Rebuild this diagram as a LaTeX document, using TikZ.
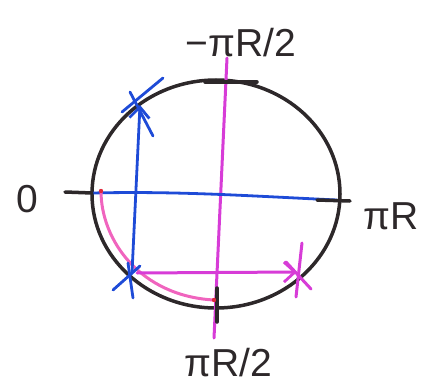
\documentclass[tikz,border=0pt]{standalone}
\usepackage{fontspec}
\setmainfont{Liberation Sans}
\usetikzlibrary{arrows.meta}
\definecolor{inkblack}{RGB}{45,40,42}
\definecolor{inkblue}{RGB}{30,75,215}
\definecolor{inkmag}{RGB}{215,60,215}
\definecolor{inkpink}{RGB}{240,100,190}
\definecolor{inkred}{RGB}{225,40,60}
\begin{document}
\begin{tikzpicture}[x=1pt,y=-1pt,
  lbl/.style={inner sep=0pt,font=\fontsize{39}{45}\selectfont,text=inkblack},
  blk/.style={draw=inkblack,line width=3.5pt,line cap=round},
  blu/.style={draw=inkblue,line width=2.8pt,line cap=round},
  mag/.style={draw=inkmag,line width=3pt,line cap=round},
  barb/.style={-{Straight Barb[length=11pt,width=20pt,line width=2.8pt]}}]
\useasboundingbox (0,0) rectangle (422,390);
% points
\coordinate (c) at (216,194);
\coordinate (L) at (93,193);
\coordinate (Rt) at (337,200);
\coordinate (T) at (227,58);
\coordinate (B) at (214,338);
\coordinate (P1) at (140,105);
\coordinate (P2) at (132,273);
\coordinate (P2m) at (137,273);
\coordinate (P3) at (297,272);
\coordinate (S) at (101,191);
\coordinate (E) at (214,300);
% circle
\draw[blk] (c) ellipse [x radius=124, y radius=114];
% magenta vertical axis
\draw[mag] (T) -- (B);
% blue horizontal axis
\draw[blu] (L) .. controls (180,191) and (250,196) .. (Rt);
% black ticks
\draw[blk] (205,82) -- (257,82);
\draw[blk] (217,288) -- (217,322);
\draw[blk] (65,192) -- (92,193);
\draw[blk] (317,200) -- (350,201);
% pink arc along circle
\draw[draw=inkpink,line width=3pt,line cap=round] (S) .. controls (101,240) and (140,296) .. (E);
\fill[inkred] (S) circle (2.2);
\fill[inkred] (E) circle (2.2);
% blue vertical arrow
\draw[blu,barb] (P2) -- (P1);
% blue crosses
\draw[blu] (122,112) -- (163,78);
\draw[blu] (130,92) -- (153,136);
\draw[blu] (113,290) -- (140,266);
\draw[blu] (128,263) -- (133,298);
% magenta horizontal arrow
\draw[mag,barb] (P2m) -- (P3);
% magenta cross
\draw[mag] (302,243) -- (296,297);
\draw[mag] (286,262) -- (311,289);
% labels
\node[lbl] (lt) at (241,43) {−πR/2};
\node[lbl] (l0) at (27,199) {0};
\node[lbl] (lr) at (391,216) {πR};
\node[lbl] (lb) at (228,363) {πR/2};
\end{tikzpicture}
\end{document}
